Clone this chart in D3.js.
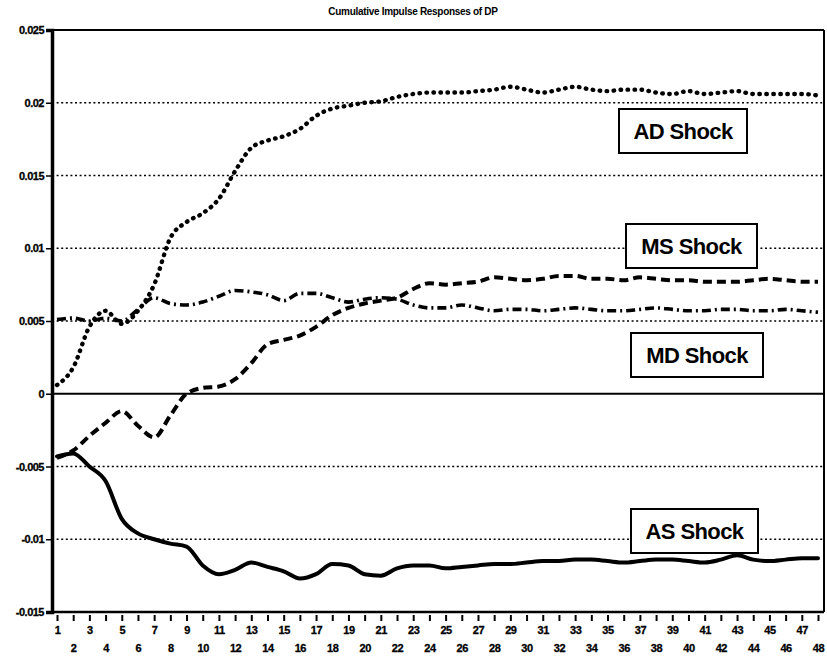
<!DOCTYPE html>
<html>
<head>
<meta charset="utf-8">
<script src="https://cdn.jsdelivr.net/npm/d3@7"></script>
<style>
  body { margin: 0; background: #fff; }
  svg { display: block; font-family: "Liberation Sans", Arial, sans-serif; }
</style>
</head>
<body>
<div id="chart"></div>
<script>
// periods 1..48 on the x axis
var periods = d3.range(1, 49);

// cumulative responses
var adShock = [0.0006, 0.0018, 0.0046, 0.0057, 0.0048, 0.0057, 0.0075, 0.0107, 0.0118, 0.0124,
  0.0134, 0.0153, 0.0169, 0.0174, 0.0177, 0.0182, 0.0191, 0.0196, 0.0198, 0.0200,
  0.0201, 0.0204, 0.0206, 0.0207, 0.0207, 0.0207, 0.0208, 0.0209, 0.0211, 0.0209,
  0.0207, 0.0209, 0.0211, 0.0209, 0.0208, 0.0209, 0.0209, 0.0207, 0.0206, 0.0208,
  0.0206, 0.0207, 0.0208, 0.0206, 0.0206, 0.0206, 0.0206, 0.0205];

var msShock = [-0.0044, -0.0039, -0.0029, -0.0020, -0.0012, -0.0022, -0.0030, -0.0015, 0.0000, 0.0004,
  0.0005, 0.0010, 0.0021, 0.0034, 0.0037, 0.0040, 0.0046, 0.0054, 0.0059, 0.0062,
  0.0064, 0.0066, 0.0072, 0.0076, 0.0075, 0.0076, 0.0077, 0.0080, 0.0079, 0.0078,
  0.0079, 0.0081, 0.0081, 0.0079, 0.0079, 0.0078, 0.0080, 0.0079, 0.0078, 0.0078,
  0.0077, 0.0077, 0.0077, 0.0078, 0.0079, 0.0078, 0.0077, 0.0077];

var mdShock = [0.0051, 0.0052, 0.0050, 0.0052, 0.0050, 0.0058, 0.0066, 0.0062, 0.0061, 0.0063,
  0.0067, 0.0071, 0.0070, 0.0068, 0.0064, 0.0069, 0.0069, 0.0066, 0.0063, 0.0065,
  0.0066, 0.0065, 0.0061, 0.0059, 0.0059, 0.0061, 0.0059, 0.0057, 0.0058, 0.0058,
  0.0057, 0.0058, 0.0059, 0.0058, 0.0057, 0.0057, 0.0058, 0.0059, 0.0058, 0.0057,
  0.0057, 0.0058, 0.0058, 0.0057, 0.0057, 0.0058, 0.0057, 0.0056];

var asShock = [-0.0043, -0.0041, -0.0050, -0.0060, -0.0086, -0.0096, -0.0100, -0.0103, -0.0105, -0.0118,
  -0.0124, -0.0121, -0.0116, -0.0119, -0.0122, -0.0127, -0.0124, -0.0117, -0.0118, -0.0124,
  -0.0125, -0.0120, -0.0118, -0.0118, -0.0120, -0.0119, -0.0118, -0.0117, -0.0117, -0.0116,
  -0.0115, -0.0115, -0.0114, -0.0114, -0.0115, -0.0116, -0.0115, -0.0114, -0.0114, -0.0115,
  -0.0116, -0.0114, -0.0111, -0.0114, -0.0115, -0.0114, -0.0113, -0.0113];

var yTicks = [-0.015, -0.01, -0.005, 0, 0.005, 0.01, 0.015, 0.02, 0.025];
var seriesNames = ["AD Shock", "MS Shock", "MD Shock", "AS Shock"];

var svgWidth = 827, svgHeight = 657;
// plot frame in pixels
var frame = { left: 52, right: 824, top: 30, bottom: 612 };

var svg = d3.select("#chart").append("svg")
  .attr("width", svgWidth)
  .attr("height", svgHeight);

var x = d3.scaleLinear().domain([1, 48]).range([57, 818]);
var y = d3.scaleLinear().domain([-0.015, 0.025]).range([frame.bottom, frame.top]);

// title
svg.append("text")
  .attr("x", 413).attr("y", 15)
  .attr("text-anchor", "middle")
  .attr("font-size", "10px")
  .attr("font-weight", "bold")
  .attr("letter-spacing", "-0.3px")
  .text("Cumulative Impulse Responses of DP");

// dotted gridlines (not at 0, not at the frame edges)
svg.append("g").selectAll("line")
  .data(yTicks.filter(d => d !== 0 && d !== -0.015 && d !== 0.025))
  .enter().append("line")
  .attr("x1", frame.left).attr("x2", frame.right)
  .attr("y1", d => y(d)).attr("y2", d => y(d))
  .attr("stroke", "#000")
  .attr("stroke-width", 1.6)
  .attr("stroke-dasharray", "2,2.6");

// zero line
svg.append("line")
  .attr("x1", frame.left).attr("x2", frame.right)
  .attr("y1", y(0)).attr("y2", y(0))
  .attr("stroke", "#000").attr("stroke-width", 2.2);

// frame
svg.append("line").attr("x1", frame.left).attr("x2", frame.right)
  .attr("y1", frame.top).attr("y2", frame.top)
  .attr("stroke", "#000").attr("stroke-width", 2);
svg.append("line").attr("x1", frame.right).attr("x2", frame.right)
  .attr("y1", frame.top).attr("y2", frame.bottom)
  .attr("stroke", "#000").attr("stroke-width", 2);
svg.append("line").attr("x1", frame.left).attr("x2", frame.right)
  .attr("y1", frame.bottom).attr("y2", frame.bottom)
  .attr("stroke", "#000").attr("stroke-width", 2.5);

// y axis
var yAxis = svg.append("g")
  .attr("transform", `translate(${frame.left},0)`)
  .call(d3.axisLeft(y).tickValues(yTicks).tickSize(6).tickPadding(2)
    .tickFormat(d => String(+d.toFixed(3))));
yAxis.select(".domain").attr("stroke-width", 3.5);
yAxis.selectAll(".tick line").attr("stroke-width", 1.5);
yAxis.selectAll("text")
  .attr("font-size", "11px")
  .attr("font-weight", "bold")
  .attr("font-family", "Liberation Sans, Arial, sans-serif")
  .attr("letter-spacing", "-0.5px")
  .attr("stroke", "#000")
  .attr("stroke-width", 0.3)
  .attr("fill", "#000");

// x axis, odd labels on the first row and even labels below
var xAxis = svg.append("g")
  .attr("transform", `translate(0,${frame.bottom})`)
  .call(d3.axisBottom(x).tickValues(periods).tickSize(9).tickFormat(d3.format("d")));
xAxis.select(".domain").remove();
xAxis.selectAll(".tick line").attr("stroke-width", 2).attr("y1", 3);
xAxis.selectAll("text")
  .attr("y", d => d % 2 === 1 ? 14 : 32)
  .attr("font-size", "11px")
  .attr("font-weight", "bold")
  .attr("font-family", "Liberation Sans, Arial, sans-serif")
  .attr("letter-spacing", "-0.4px")
  .attr("stroke", "#000")
  .attr("stroke-width", 0.3)
  .attr("fill", "#000");

// the four response lines
var line = d3.line()
  .x((d, i) => x(periods[i]))
  .y(d => y(d))
  .curve(d3.curveMonotoneX);

var lineStyles = [
  { data: adShock, dash: "0.5,6.5", width: 4.4, cap: "round" },
  { data: msShock, dash: "9,5", width: 4, cap: "butt" },
  { data: mdShock, dash: "9,4,2,4", width: 3.6, cap: "butt" },
  { data: asShock, dash: null, width: 4, cap: "round" }
];

svg.append("g").selectAll("path")
  .data(lineStyles)
  .enter().append("path")
  .attr("d", d => line(d.data))
  .attr("fill", "none")
  .attr("stroke", "#000")
  .attr("stroke-width", d => d.width)
  .attr("stroke-linecap", d => d.cap)
  .attr("stroke-linejoin", "round")
  .attr("stroke-dasharray", d => d.dash);

// boxed labels
var boxes = [
  { x: 619, y: 109, w: 128, h: 44 },
  { x: 626, y: 224, w: 131, h: 44 },
  { x: 631, y: 333, w: 132, h: 44 },
  { x: 631, y: 509, w: 127, h: 44 }
];

var labels = svg.append("g").selectAll("g")
  .data(seriesNames)
  .enter().append("g")
  .attr("transform", (d, i) => `translate(${boxes[i].x},${boxes[i].y})`);

labels.append("rect")
  .attr("width", (d, i) => boxes[i].w)
  .attr("height", (d, i) => boxes[i].h)
  .attr("fill", "#fff")
  .attr("stroke", "#000")
  .attr("stroke-width", 2);

labels.append("text")
  .attr("x", (d, i) => boxes[i].w / 2)
  .attr("y", 30)
  .attr("text-anchor", "middle")
  .attr("font-size", "22px")
  .attr("font-weight", "bold")
  .attr("letter-spacing", "-0.6px")
  .text(d => d);
</script>
</body>
</html>
